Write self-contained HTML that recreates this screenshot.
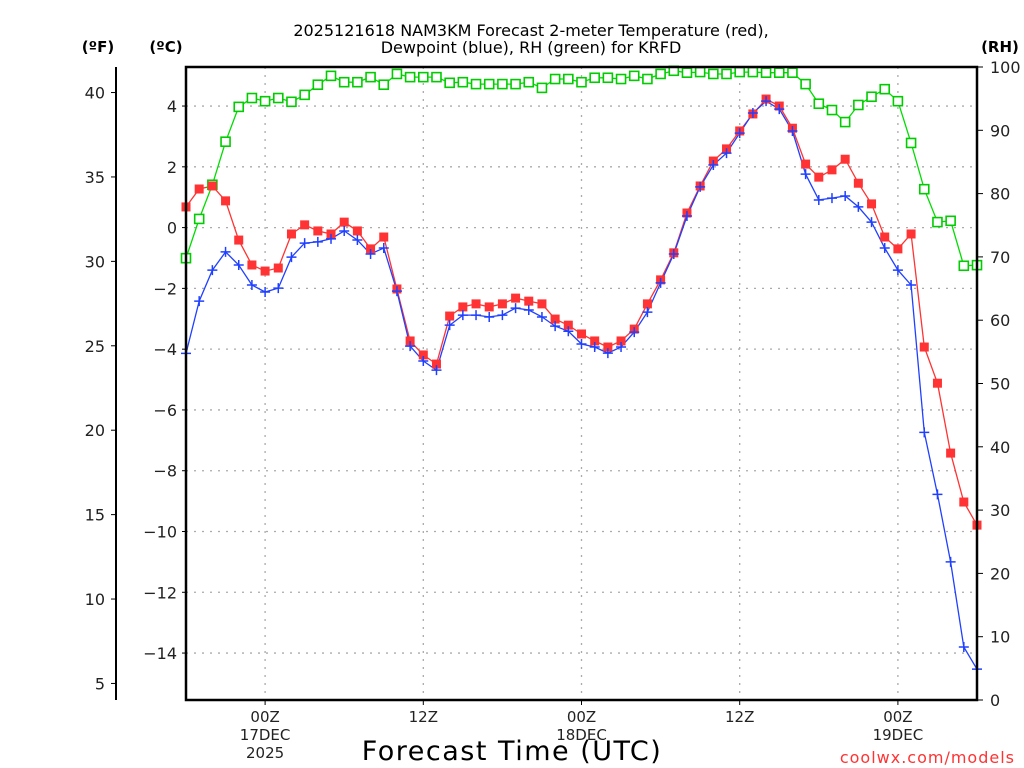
<!DOCTYPE html>
<html><head><meta charset="utf-8"><style>
html,body{margin:0;padding:0;background:#fff;}
svg{display:block;font-family:"DejaVu Sans","Liberation Sans",sans-serif;}
</style></head><body>
<svg id="chart" width="1024" height="768" viewBox="0 0 1024 768" xmlns="http://www.w3.org/2000/svg">
<text x="531" y="36" text-anchor="middle" font-size="16" fill="#000">2025121618 NAM3KM Forecast 2-meter Temperature (red),</text>
<text x="531" y="53" text-anchor="middle" font-size="16" fill="#000">Dewpoint (blue), RH (green) for KRFD</text>
<text x="98" y="52" text-anchor="middle" font-size="15" font-weight="bold">(ºF)</text>
<text x="166" y="52" text-anchor="middle" font-size="15" font-weight="bold">(ºC)</text>
<text x="1000" y="52" text-anchor="middle" font-size="15" font-weight="bold">(RH)</text>
<g id="grid"></g>
<g id="axes"></g>
<g id="series"></g>
<rect x="186" y="67" width="791" height="633" fill="none" stroke="#000" stroke-width="2.5"/>
<text x="512" y="760" text-anchor="middle" font-size="27" letter-spacing="1.5">Forecast Time (UTC)</text>
<text x="1015" y="763" text-anchor="end" font-size="16" fill="#f33" letter-spacing="1">coolwx.com/models</text>
</svg>
<script>
const hours = Array.from({length:61},(_,i)=>i);
const tempC = [0.68,1.27,1.37,0.88,-0.41,-1.23,-1.43,-1.33,-0.21,0.09,-0.11,-0.21,0.18,-0.11,-0.70,-0.31,-2.02,-3.73,-4.19,-4.49,-2.91,-2.61,-2.51,-2.61,-2.51,-2.32,-2.42,-2.51,-3.01,-3.21,-3.50,-3.73,-3.93,-3.73,-3.34,-2.51,-1.72,-0.83,0.48,1.37,2.19,2.59,3.18,3.74,4.23,4.0,3.27,2.09,1.66,1.90,2.25,1.46,0.78,-0.31,-0.70,-0.21,-3.93,-5.12,-7.42,-9.03,-9.79];
const dewC = [-4.14,-2.42,-1.40,-0.80,-1.23,-1.89,-2.12,-1.99,-0.97,-0.51,-0.47,-0.37,-0.11,-0.41,-0.87,-0.67,-2.09,-3.90,-4.39,-4.69,-3.21,-2.88,-2.88,-2.94,-2.88,-2.65,-2.71,-2.94,-3.24,-3.41,-3.83,-3.93,-4.13,-3.93,-3.44,-2.78,-1.82,-0.87,0.38,1.34,2.06,2.45,3.11,3.77,4.16,3.90,3.18,1.76,0.91,0.97,1.04,0.68,0.18,-0.67,-1.40,-1.89,-6.74,-8.78,-11.0,-13.8,-14.53];
const rh = [69.8,76.0,81.4,88.2,93.7,95.1,94.6,95.1,94.5,95.6,97.2,98.6,97.6,97.6,98.4,97.2,98.9,98.4,98.4,98.4,97.5,97.6,97.3,97.3,97.3,97.3,97.6,96.7,98.1,98.1,97.6,98.3,98.3,98.1,98.6,98.1,98.9,99.4,99.1,99.2,98.9,98.9,99.2,99.2,99.1,99.1,99.1,97.3,94.2,93.2,91.3,94.0,95.3,96.5,94.6,88.0,80.7,75.5,75.7,68.6,68.7];
const cTicks = [4,2,0,-2,-4,-6,-8,-10,-12,-14];
const fTicks = [40,35,30,25,20,15,10,5];
const rhTicks = [0,10,20,30,40,50,60,70,80,90,100];
const xTickHours = [6,18,30,42,54];
const xTickLabels = [["00Z","17DEC","2025"],["12Z"],["00Z","18DEC"],["12Z"],["00Z","19DEC"]];

const NS="http://www.w3.org/2000/svg";
const X0=186,X1=977,Y0=67,Y1=700;
const xS=h=>X0+(X1-X0)*h/60;
const cS=c=>227.6-c*30.39;
const fS=f=>cS((f-32)*5/9);
const rS=r=>Y1-(Y1-Y0)*r/100;
function mk(tag,attrs,parent){const e=document.createElementNS(NS,tag);for(const k in attrs)e.setAttribute(k,attrs[k]);parent.appendChild(e);return e;}
const grid=document.getElementById('grid'),axes=document.getElementById('axes'),ser=document.getElementById('series');

cTicks.forEach(c=>{const y=cS(c);
 let g=mk('line',{x1:X0,x2:X1,y1:y,y2:y,stroke:'#aaa','stroke-dasharray':'2 6','stroke-width':1.3},grid);
 
 
 mk('line',{x1:X0-4,x2:X0,y1:y,y2:y,stroke:'#000'},axes);
 let t=mk('text',{x:X0-9,y:y+6,'text-anchor':'end','font-size':16,fill:'#222'},axes);
 t.textContent=(c<0?'\u2212':'')+Math.abs(c);
 
 
});
xTickHours.forEach((h,i)=>{const x=xS(h);
 let g=mk('line',{x1:x,x2:x,y1:Y0,y2:Y1,stroke:'#aaa','stroke-dasharray':'2 6','stroke-width':1.3},grid);
 
 
 mk('line',{x1:x,x2:x,y1:Y1,y2:Y1+5,stroke:'#000'},axes);
 xTickLabels[i].forEach((s,j)=>{let t=mk('text',{x:x,y:722+j*18,'text-anchor':'middle','font-size':15,fill:'#222'},axes);t.textContent=s;
  
  });
});
mk('line',{x1:116,x2:116,y1:Y0,y2:Y1,stroke:'#000','stroke-width':2},axes);
fTicks.forEach(f=>{const y=fS(f);
 mk('line',{x1:111,x2:116,y1:y,y2:y,stroke:'#000'},axes);
 let t=mk('text',{x:105,y:y+6,'text-anchor':'end','font-size':16,fill:'#222'},axes);t.textContent=f;
 
 
});
rhTicks.forEach(r=>{const y=rS(r);
 mk('line',{x1:X1,x2:X1+6,y1:y,y2:y,stroke:'#000'},axes);
 let t=mk('text',{x:990,y:y+6,'text-anchor':'start','font-size':16,fill:'#222'},axes);t.textContent=r;
 
 
});

function line(vals,ys,color,name){
 const pts=vals.map((v,i)=>xS(hours[i]).toFixed(1)+','+ys(v).toFixed(1)).join(' ');
 const p=mk('polyline',{points:pts,fill:'none',stroke:color,'stroke-width':1.3},ser);
 
 
}
line(rh,rS,'#00dd00','rh-line');
line(tempC,cS,'#f33','temperature-line');
line(dewC,cS,'#2040ff','dewpoint-line');
rh.forEach((v,i)=>{const r=mk('rect',{x:xS(hours[i])-4.5,y:rS(v)-4.5,width:9,height:9,fill:'#fff',stroke:'#00cc00','stroke-width':1.6},ser);
 
 });
tempC.forEach((v,i)=>{const r=mk('rect',{x:xS(hours[i])-4.5,y:cS(v)-4.5,width:9,height:9,fill:'#f33'},ser);
 
 });
dewC.forEach((v,i)=>{const x=xS(hours[i]),y=cS(v);
 const p=mk('path',{d:`M${x-5},${y}H${x+5}M${x},${y-5}V${y+5}`,stroke:'#2040ff','stroke-width':1.5},ser);
 
 });
</script>
</body></html>
